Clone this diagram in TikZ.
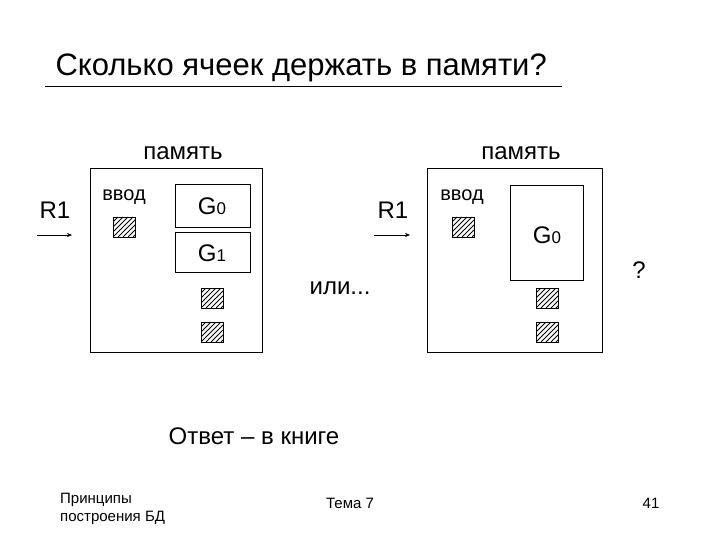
\documentclass[tikz,border=0pt]{standalone}
\usepackage{fontspec}
\setmainfont{Liberation Sans}
\usetikzlibrary{arrows.meta}
\newcommand{\hsq}[2]{%
 \begin{scope}
 \clip (#1,#2) rectangle ++(22,20);
 \foreach \k in {-20,-15,...,25} {\draw[line width=1pt] (#1+\k,#2+20) -- ++(20,-20);}
 \end{scope}
 \draw[line width=0.9pt] (#1,#2) rectangle ++(22,20);}
\begin{document}
\begin{tikzpicture}[x=1pt,y=-1pt,
 box/.style={draw,line width=0.8pt},
 lbl/.style={font=\fontsize{24}{28}\selectfont},
 sm/.style={font=\fontsize{20}{24}\selectfont},
 ft/.style={font=\fontsize{15}{18}\selectfont}]
\useasboundingbox (0,0) rectangle (720,540);
\node[font=\fontsize{31}{36}\selectfont,anchor=west] (title) at (52,68) {Сколько ячеек держать в памяти?};
\draw[line width=0.8pt] (45,86) coordinate (u1) -- (562,86) coordinate (u2);
% left
\draw[box] (90,168) rectangle (262,352);
\node[lbl] (m1) at (183,153) {память};
\node[lbl] (r1) at (55,210) {R1};
\coordinate (a1) at (37,235); \coordinate (b1) at (72,235);
\draw[-{Stealth[length=5pt,width=4pt]}] (a1) -- (b1);
\node[sm] (v1) at (124,197) {ввод};
\hsq{113}{217}
\draw[box] (175,184) rectangle (250,227);
\node[lbl] (g0) at (212,206) {G\fontsize{17}{20}\selectfont 0};
\draw[box] (175,232) rectangle (250,272);
\node[lbl] (g1) at (212,253) {G\fontsize{17}{20}\selectfont 1};
\hsq{201}{288}
\hsq{201}{322}
\node[lbl] (or) at (340,288) {или...};
% right
\draw[box] (427,168) rectangle (602,352);
\node[lbl] (m2) at (521,153) {память};
\node[lbl] (r2) at (393,210) {R1};
\coordinate (a2) at (374,235); \coordinate (b2) at (410,235);
\draw[-{Stealth[length=5pt,width=4pt]}] (a2) -- (b2);
\node[sm] (v2) at (462,197) {ввод};
\hsq{452}{217}
\draw[box] (510,185) rectangle (583,280);
\node[lbl] (g0b) at (547,235) {G\fontsize{17}{20}\selectfont 0};
\hsq{536}{288}
\hsq{536}{322}
\node[lbl] (q) at (639,270) {?};
\node[lbl] (ans) at (254,436) {Ответ – в книге};
\node[ft,align=left,anchor=north west,inner sep=0pt] (f1) at (60,493) {Принципы\\построения БД};
\node[ft] (f2) at (350,503) {Тема 7};
\node[ft] (f3) at (651,503) {41};
\end{tikzpicture}
\end{document}
